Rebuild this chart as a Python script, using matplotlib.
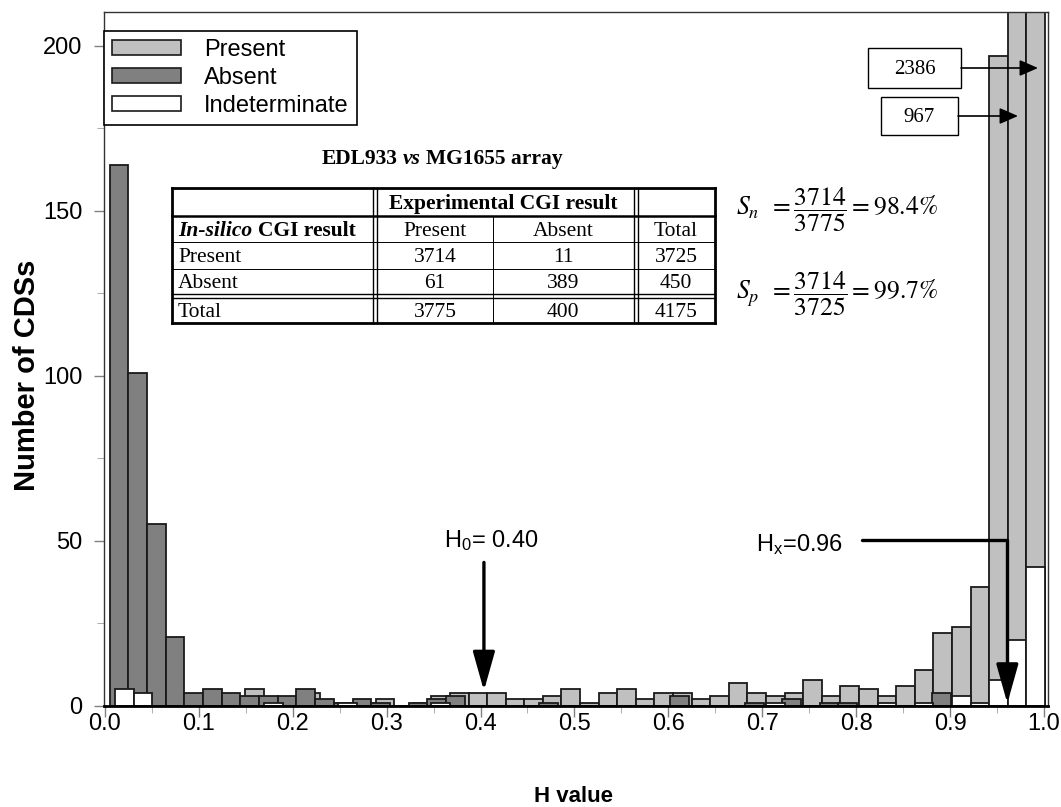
import numpy as np
import matplotlib
matplotlib.use('Agg')
import matplotlib.pyplot as plt
from matplotlib.patches import Patch, Rectangle
from matplotlib.lines import Line2D

# ---------------- data (counts per H-value bin, 50 bins of 0.02) ----------------
present = [3, 3, 2, 2, 2, 2, 1, 5, 1, 1,
           4, 1, 0, 1, 2, 0, 1, 3, 4, 4,
           4, 2, 2, 3, 5, 1, 4, 5, 2, 4,
           4, 2, 3, 7, 4, 3, 4, 8, 3, 6,
           5, 3, 6, 11, 22, 24, 36, 197, 967, 2386]
absent = [164, 101, 55, 21, 4, 5, 4, 3, 3, 3,
          5, 2, 1, 2, 1, 0, 1, 2, 3, 0,
          0, 0, 0, 1, 0, 0, 0, 0, 0, 0,
          3, 0, 0, 0, 1, 0, 2, 0, 1, 1,
          0, 0, 0, 0, 4, 0, 0, 0, 0, 0]
indeterminate = [5, 4, 0, 0, 0, 0, 0, 0, 1, 0,
                 0, 0, 1, 0, 0, 0, 0, 1, 0, 0,
                 0, 0, 0, 0, 0, 0, 0, 0, 0, 0,
                 0, 0, 0, 0, 0, 1, 0, 0, 0, 0,
                 0, 1, 0, 1, 0, 3, 1, 8, 20, 42]
series_labels = ["Present", "Absent", "Indeterminate"]
xtick_vals = [0.0, 0.1, 0.2, 0.3, 0.4, 0.5, 0.6, 0.7, 0.8, 0.9, 1.0]
ytick_vals = [0, 50, 100, 150, 200]
h0_value = 0.40
hx_value = 0.96
big_counts = ["2386", "967"]

table_cols = ["Present", "Absent", "Total"]
table_rows = ["Present", "Absent", "Total"]
table_vals = [["3714", "11", "3725"],
              ["61", "389", "450"],
              ["3775", "400", "4175"]]
sn_eq = r"$S_n\ \,=\dfrac{3714}{3775}=98.4\%$"
sp_eq = r"$S_p\ \,=\dfrac{3714}{3725}=99.7\%$"

# ---------------- figure ----------------
W, H = 1061, 807
plt.rcParams['font.family'] = ['Liberation Sans', 'DejaVu Sans']
plt.rcParams['mathtext.fontset'] = 'custom'
plt.rcParams['mathtext.rm'] = 'Liberation Sans'
plt.rcParams['mathtext.it'] = 'Liberation Sans:italic'
plt.rcParams['mathtext.bf'] = 'Liberation Sans:bold'

fig = plt.figure(figsize=(W / 100, H / 100), dpi=100)
fig.patch.set_facecolor('white')

def fx(x):
    return x / W

def fy(y):
    return 1 - y / H

ax = fig.add_axes([fx(104), fy(706), (1048 - 104) / W, (706 - 12) / H])

k = np.arange(len(present))
x_abs = 0.005 + k * 0.0199
x_pi = 0.011 + k * 0.0198
ec = '#1a1a1a'
ax.bar(x_pi, present, width=0.0198, align='edge', color='#c0c0c0',
       edgecolor=ec, linewidth=1.3, zorder=2)
ax.bar(x_abs, absent, width=0.0199, align='edge', color='#808080',
       edgecolor=ec, linewidth=1.3, zorder=3)
ax.bar(x_pi, indeterminate, width=0.0198, align='edge', color='white',
       edgecolor=ec, linewidth=1.3, zorder=4)

ax.set_xlim(-0.001, 1.0043)
ax.set_ylim(0, 210.3)
ax.set_xticks(xtick_vals)
ax.set_xticklabels([f"{v:.1f}" for v in xtick_vals])
ax.set_xticks(np.arange(0.05, 1.0, 0.1), minor=True)
ax.set_yticks(ytick_vals)
ax.set_yticks([25, 75, 125, 175], minor=True)
ax.tick_params(axis='both', which='major', labelsize=17, color='#808080',
               direction='out', width=1)
ax.tick_params(axis='x', which='major', length=8, pad=-3)
ax.tick_params(axis='x', which='minor', length=5, color='#a0a0a0')
ax.tick_params(axis='y', which='major', length=7, pad=8.5)
ax.tick_params(axis='y', which='minor', length=5, color='#a0a0a0')
for s in ['top', 'right', 'left']:
    ax.spines[s].set_linewidth(1.0)
    ax.spines[s].set_color('#333333')
ax.spines['bottom'].set_linewidth(2.0)
ax.spines['bottom'].set_color('black')
ax.spines['bottom'].set_zorder(5)

fig.text(fx(574), fy(797), "H value", fontsize=16, fontweight='bold',
         ha='center', va='center')
fig.text(fx(27), fy(375), "Number of CDSs", fontsize=21, fontweight='bold',
         ha='center', va='center', rotation=90)

# legend
handles = [Patch(facecolor='#c0c0c0', edgecolor=ec, linewidth=1.2),
           Patch(facecolor='#808080', edgecolor=ec, linewidth=1.2),
           Patch(facecolor='white', edgecolor=ec, linewidth=1.2)]
leg = ax.legend(handles, series_labels, loc='upper left',
                bbox_to_anchor=(0.0, 1 - (31 - 12) / 694), fontsize=17,
                frameon=True, fancybox=False, framealpha=1, edgecolor='black',
                handlelength=2.9, handleheight=0.6, handletextpad=1.0,
                labelspacing=0.25, borderpad=0.35, borderaxespad=0.0)
leg.get_frame().set_linewidth(1.2)
leg.set_zorder(6)

# arrows
arrow_kw = dict(arrowstyle='-|>,head_length=1.6,head_width=0.45', color='black',
                lw=2.4, mutation_scale=15, shrinkA=0, shrinkB=0)
ax.annotate('', xy=(0.4036, 4.6), xytext=(0.4036, 43.5), arrowprops=arrow_kw,
            zorder=7)
ax.text(0.411, 50.2, r"H$_\mathrm{0}$= 0.40", fontsize=17, ha='center',
        va='center', math_fontfamily='custom', zorder=7)
kw2 = dict(arrow_kw)
kw2['connectionstyle'] = 'angle,angleA=0,angleB=90,rad=0'
ax.annotate('', xy=(0.961, 0.8), xytext=(0.806, 50.3), arrowprops=kw2, zorder=7)
ax.text(0.740, 49.0, r"H$_\mathrm{x}$=0.96", fontsize=17, ha='center',
        va='center', math_fontfamily='custom', zorder=7)

# count boxes with arrows (figure pixel layout)
serif = ['Liberation Serif', 'DejaVu Serif']
for lab, (bx0, bx1, by0, by1, ax1) in zip(big_counts,
                                          [(868, 961, 48, 88, 1038),
                                           (881, 958, 97, 135, 1018)]):
    fig.add_artist(Rectangle((fx(bx0), fy(by1)), (bx1 - bx0) / W, (by1 - by0) / H,
                             transform=fig.transFigure, facecolor='white',
                             edgecolor='black', linewidth=1.0, zorder=8))
    fig.text(fx((bx0 + bx1) / 2), fy((by0 + by1) / 2 + 1), lab, fontsize=15,
             family=serif, ha='center', va='center', zorder=9)
    ym = (by0 + by1) / 2
    fig.add_artist(matplotlib.patches.FancyArrowPatch(
        (fx(bx1), fy(ym)), (fx(ax1), fy(ym)), transform=fig.transFigure,
        arrowstyle='-|>,head_length=0.8,head_width=0.35', mutation_scale=14,
        color='black', lw=1.2, shrinkA=0, shrinkB=0, zorder=9))

# ---------------- table ----------------
renderer = fig.canvas.get_renderer()

def hline(y, x0, x1, lw):
    fig.add_artist(Line2D([fx(x0), fx(x1)], [fy(y), fy(y)], lw=lw, color='black',
                          transform=fig.transFigure, solid_capstyle='projecting'))

def vline(x, y0, y1, lw):
    fig.add_artist(Line2D([fx(x), fx(x)], [fy(y0), fy(y1)], lw=lw, color='black',
                          transform=fig.transFigure, solid_capstyle='projecting'))

def rich(xpos, ybase, parts, size, ha='center'):
    objs, widths = [], []
    for s, wgt, sty in parts:
        t = fig.text(0, fy(ybase), s, fontsize=size, fontweight=wgt, fontstyle=sty,
                     family=serif, ha='left', va='baseline')
        widths.append(t.get_window_extent(renderer).width)
        objs.append(t)
    space = size * 100 / 72 * 0.25
    total = sum(widths) + space * (len(parts) - 1)
    x = xpos - total / 2 if ha == 'center' else xpos
    for t, wd in zip(objs, widths):
        t.set_x(fx(x))
        x += wd + space

TX0, TX1 = 172, 715
rows_y = [188, 215, 242, 268, 295, 323]
fs_tab = 15.5

# title
rich(442, 164, [("EDL933", 'bold', 'normal'), ("vs", 'bold', 'italic'),
                ("MG1655 array", 'bold', 'normal')], fs_tab)

# borders
hline(188, TX0, TX1, 2.0)
hline(323, TX0, TX1, 2.0)
vline(TX0, 188, 323, 2.0)
vline(TX1, 188, 323, 2.0)
hline(215.5, TX0, TX1, 1.8)
hline(242, TX0, TX1, 0.7)
hline(268.5, TX0, TX1, 0.7)
hline(294, TX0, TX1, 1.0)
hline(297.5, TX0, TX1, 1.0)
for xc in (372.5, 376.5, 633.5, 637.5):
    vline(xc, 188, 323, 1.0)
vline(493, 215.5, 323, 0.7)

def cell_base(r):
    return (rows_y[r] + rows_y[r + 1]) / 2 + 7

rich(503, cell_base(0), [("Experimental CGI result", 'bold', 'normal')], fs_tab)
rich(178, cell_base(1), [("In-silico", 'bold', 'italic'),
                         ("CGI result", 'bold', 'normal')], fs_tab, ha='left')
centers = [435, 563, 676]
for c, lab in enumerate(table_cols):
    rich(centers[c], cell_base(1), [(lab, 'normal', 'normal')], fs_tab)
for r, lab in enumerate(table_rows):
    base = cell_base(2 + r) if r < 2 else cell_base(4) + 1
    rich(178, base, [(lab, 'normal', 'normal')], fs_tab, ha='left')
    for c in range(3):
        rich(centers[c], base, [(table_vals[r][c], 'normal', 'normal')], fs_tab)

# equations
fig.text(fx(736), fy(210), sn_eq, fontsize=18.5, ha='left', va='center',
         math_fontfamily='stix')
fig.text(fx(736), fy(294), sp_eq, fontsize=18.5, ha='left', va='center',
         math_fontfamily='stix')

fig.savefig('out.png', dpi=100, facecolor='white')
